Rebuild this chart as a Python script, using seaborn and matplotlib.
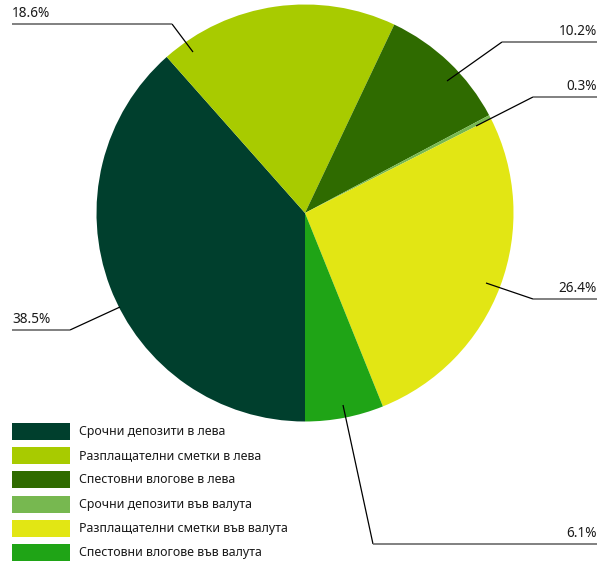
import matplotlib
matplotlib.use("Agg")
import matplotlib.pyplot as plt
from matplotlib.patches import Rectangle
import seaborn as sns

# Deposit structure by type and currency (share of total, %)
categories = [
    "Срочни депозити в лева",
    "Разплащателни сметки в лева",
    "Спестовни влогове в лева",
    "Срочни депозити във валута",
    "Разплащателни сметки във валута",
    "Спестовни влогове във валута",
]
shares = [38.5, 18.6, 10.2, 0.3, 26.4, 6.1]
value_labels = ["38.5%", "18.6%", "10.2%", "0.3%", "26.4%", "6.1%"]
colors = ["#003F2D", "#A8CB00", "#2F6B00", "#77B850", "#E2E614", "#1FA416"]

sns.set_theme(style="white")
plt.rcParams["font.family"] = ["Noto Sans", "DejaVu Sans"]

W, H = 603, 564
fig = plt.figure(figsize=(W / 100, H / 100), dpi=100)
ax = fig.add_axes([0, 0, 1, 1])

cx, cy, r = 305, H - 213, 208.5
ax.pie(shares, colors=colors, startangle=270, counterclock=False,
       center=(cx, cy), radius=r, frame=True,
       wedgeprops=dict(linewidth=0, antialiased=True))
ax.set_xlim(0, W)
ax.set_ylim(0, H)
ax.set_aspect("equal")
ax.axis("off")

# Leader lines: (anchor inside slice), (elbow), (end of horizontal), text side
leaders = [
    ((120, 307), (70, 330), (12, 330), "left"),
    ((193, 52), (172, 24), (12, 24), "left"),
    ((447, 81), (502, 42), (597, 42), "right"),
    ((476, 126), (533, 97), (597, 97), "right"),
    ((486, 283), (533, 299), (597, 299), "right"),
    ((343, 405), (373, 544), (597, 544), "right"),
]
for label, (a, e, t, side) in zip(value_labels, leaders):
    ax.plot([a[0], e[0]], [H - a[1], H - e[1]], color="black", lw=0.9,
            solid_capstyle="butt")
    ax.plot([e[0], t[0]], [H - e[1], H - t[1]], color="#6b6b6b", lw=1.2,
            solid_capstyle="butt")
    ax.text(t[0], H - t[1] + 3, label, ha=side, va="bottom",
            fontsize=9.8, color="#1a1a1a")

# Legend drawn as colour boxes with labels
for i, (name, col) in enumerate(zip(categories, colors)):
    top = 423 + i * 24.2
    ax.add_patch(Rectangle((12, H - top - 17), 58, 17, facecolor=col,
                           edgecolor="none"))
    ax.text(79, H - top - 8.5, name, ha="left", va="center",
            fontsize=8.9, color="#1a1a1a")

fig.savefig("out.png", dpi=100)
